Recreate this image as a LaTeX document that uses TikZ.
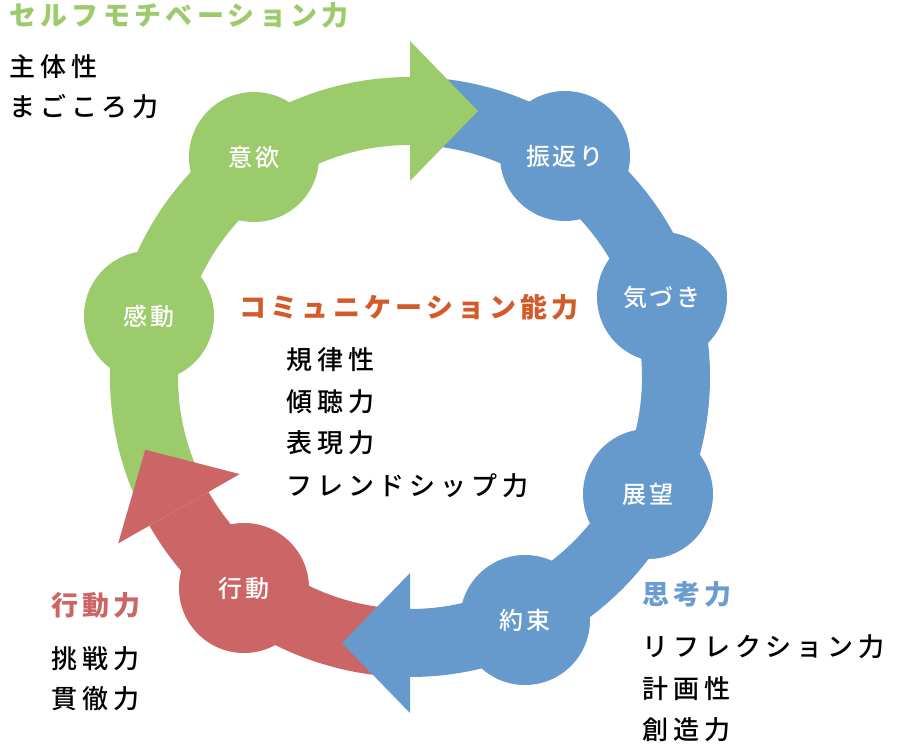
\documentclass[tikz,border=0pt]{standalone}
\usepackage{fontspec}
\usetikzlibrary{calc}
\IfFontExistsTF{Noto Sans CJK JP Medium}{%
  \newfontfamily\jp[LetterSpace=19]{Noto Sans CJK JP Medium}%
  \newfontfamily\jplab[LetterSpace=10]{Noto Sans CJK JP Medium}%
}{%
  \newfontfamily\jp[LetterSpace=19,FakeBold=0.4]{Noto Sans CJK JP}%
  \newfontfamily\jplab[LetterSpace=10,FakeBold=0.4]{Noto Sans CJK JP}%
}
\newfontfamily\jphead[LetterSpace=16]{Noto Sans CJK JP}
\definecolor{bandgreen}{RGB}{155,203,106}
\definecolor{bandblue}{RGB}{102,153,204}
\definecolor{bandred}{RGB}{204,102,102}
\definecolor{headorange}{RGB}{211,91,42}
\definecolor{headblue}{RGB}{106,155,209}
\begin{document}
\begin{tikzpicture}[x=1pt,y=1pt,
  circ/.style={circle,minimum size=130pt,inner sep=0pt,text=white,
    font=\jplab\fontsize{24}{27}\selectfont},
  head/.style={anchor=west,inner sep=0pt,font=\jphead\bfseries\fontsize{27}{30}\selectfont},
  body/.style={anchor=west,inner sep=0pt,text=black,font=\jp\fontsize{26}{30}\selectfont}]
\useasboundingbox (0,0) rectangle (900,750);
\fill[white] (0,0) rectangle (900,750);
\coordinate (C) at (410,373);
% bands
\fill[bandblue] ($(C)+(90:300)$) arc[start angle=90,end angle=-90,radius=300]
  -- ($(C)+(-90:232)$) arc[start angle=-90,end angle=90,radius=232] -- cycle;
\fill[bandred] ($(C)+(270:300)$) arc[start angle=270,end angle=209.7,radius=300]
  -- ($(C)+(209.7:232)$) arc[start angle=209.7,end angle=270,radius=232] -- cycle;
\fill[bandgreen] ($(C)+(209.7:300)$) arc[start angle=209.7,end angle=90,radius=300]
  -- ($(C)+(90:232)$) arc[start angle=90,end angle=209.7,radius=232] -- cycle;
% circles
\node[circ,fill=bandgreen] (iyoku) at (254,593) {意欲};
\node[circ,fill=bandgreen] (kando) at (149,434) {感動};
\node[circ,fill=bandblue] (furikaeri) at (565,594) {振返り};
\node[circ,fill=bandblue] (kizuki) at (662,453) {気づき};
\node[circ,fill=bandblue] (tenbo) at (648,256) {展望};
\node[circ,fill=bandblue] (yakusoku) at (525,130) {約束};
\node[circ,fill=bandred] (kodo) at (244,162) {行動};
% arrowheads
\fill[bandgreen] ($(C)+(90:196)$) -- ($(C)+(90:336)$) -- ($(C)+(90:266)+(0:68)$) -- cycle;
\fill[bandblue] ($(C)+(-90:196)$) -- ($(C)+(-90:336)$) -- ($(C)+(-90:266)+(180:68)$) -- cycle;
\fill[bandred] ($(C)+(209.7:196)$) -- ($(C)+(209.7:336)$) -- ($(C)+(209.7:266)+(119.7:68)$) -- cycle;
% texts top-left
\node[head,text=bandgreen] (h1) at (9,735) {セルフモチベーション力};
\node[body] (t11) at (9,683) {主体性};
\node[body] (t12) at (9,643) {まごころ力};
% centre
\node[head,text=headorange] (h2) at (239,443) {コミュニケーション能力};
\node[body] (t21) at (286,390) {規律性};
\node[body] (t22) at (286,348) {傾聴力};
\node[body] (t23) at (286,307) {表現力};
\node[body] (t24) at (286,264) {フレンドシップ力};
% right bottom
\node[head,text=headblue] (h3) at (642,156) {思考力};
\node[body] (t31) at (642,103) {リフレクション力};
\node[body] (t32) at (642,61) {計画性};
\node[body] (t33) at (642,20) {創造力};
% left bottom
\node[head,text=bandred] (h4) at (51,145) {行動力};
\node[body] (t41) at (51,91) {挑戦力};
\node[body] (t42) at (51,51) {貫徹力};
\end{tikzpicture}
\end{document}
